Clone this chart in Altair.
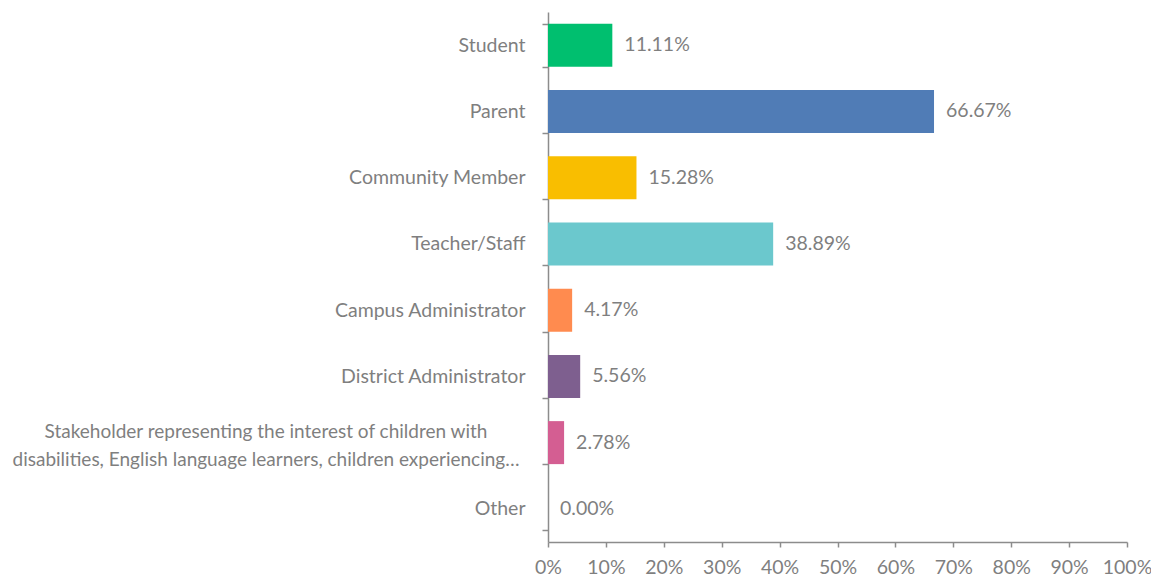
import altair as alt
import pandas as pd

categories = [
    "Student",
    "Parent",
    "Community Member ",
    "Teacher/Staff",
    "Campus Administrator ",
    "District Administrator",
    "Stakeholder representing the interest of children with\ndisabilities, English language learners, children experiencing\u2026",
    "Other",
]
values = [11.11, 66.67, 15.28, 38.89, 4.17, 5.56, 2.78, 0.00]
colors = ["#00BF6F", "#507CB6", "#F9BE00", "#6BC8CD", "#FF8B4F", "#7E5F8F", "#D45E92", "#FFFFFF"]
x_ticks = [0, 10, 20, 30, 40, 50, 60, 70, 80, 90, 100]

df = pd.DataFrame({"category": categories, "value": values})
df["label"] = df["value"].map(lambda v: f"{v:.2f}%")
df["multiline"] = df["category"].str.contains("\n")

FONT = "Lato"
FS = 19.5
GRAY = "#7f7f7f"
AX = "#8c8c8c"

base = alt.Chart(df)

ysort = alt.Y("category:N", sort=categories)

bars = base.mark_bar(size=43).encode(
    y=alt.Y(
        "category:N",
        sort=categories,
        title=None,
        scale=alt.Scale(paddingInner=0.35, paddingOuter=0.175),
        axis=alt.Axis(
            labelExpr="indexof(datum.label, '\\n') >= 0 ? '' : datum.label",
            labelFont=FONT,
            labelFontSize=FS,
            labelColor=GRAY,
            labelLimit=600,
            labelPadding=17,
            tickBand="extent",
            tickSize=6,
            tickColor=AX,
            domainColor=AX,
            tickWidth=1.5,
            domainWidth=1.5,
            grid=False,
        ),
    ),
    x=alt.X(
        "value:Q",
        title=None,
        scale=alt.Scale(domain=[0, 100], nice=False),
        axis=alt.Axis(
            values=x_ticks,
            labelExpr="datum.value + '%'",
            labelFont=FONT,
            labelFontSize=FS,
            labelColor=GRAY,
            labelPadding=11,
            tickSize=5,
            tickColor=AX,
            domainColor=AX,
            tickWidth=1.5,
            domainWidth=1.5,
            grid=False,
            labelFlush=False,
        ),
    ),
    color=alt.Color(
        "category:N",
        scale=alt.Scale(domain=categories, range=colors),
        legend=None,
    ),
)

text = base.mark_text(
    align="left", baseline="middle", dx=12, font=FONT, fontSize=FS, color=GRAY
).encode(
    y=ysort,
    x=alt.X("value:Q"),
    text="label:N",
)

# long, two-line category label drawn centered (as in the original)
long_label = base.transform_filter("datum.multiline").mark_text(
    align="center", baseline="middle", font=FONT, fontSize=19, color=GRAY,
    lineBreak="\n", lineHeight=28, dy=-11,
).encode(
    y=ysort,
    x=alt.value(-282),
    text="category:N",
)

chart = (
    alt.layer(bars, text, long_label)
    .properties(
        width=579,
        height=530,
        background="white",
        view=alt.ViewBackground(stroke="transparent", strokeWidth=0),
        autosize=alt.AutoSizeParams(type="none"),
        padding={"left": 540, "top": 4, "right": 24, "bottom": 36},
    )
    .configure_view(stroke="transparent", strokeWidth=0)
    .configure_axis(grid=False)
)

chart.save("out.html", embed_options={"renderer": "svg", "actions": False})
